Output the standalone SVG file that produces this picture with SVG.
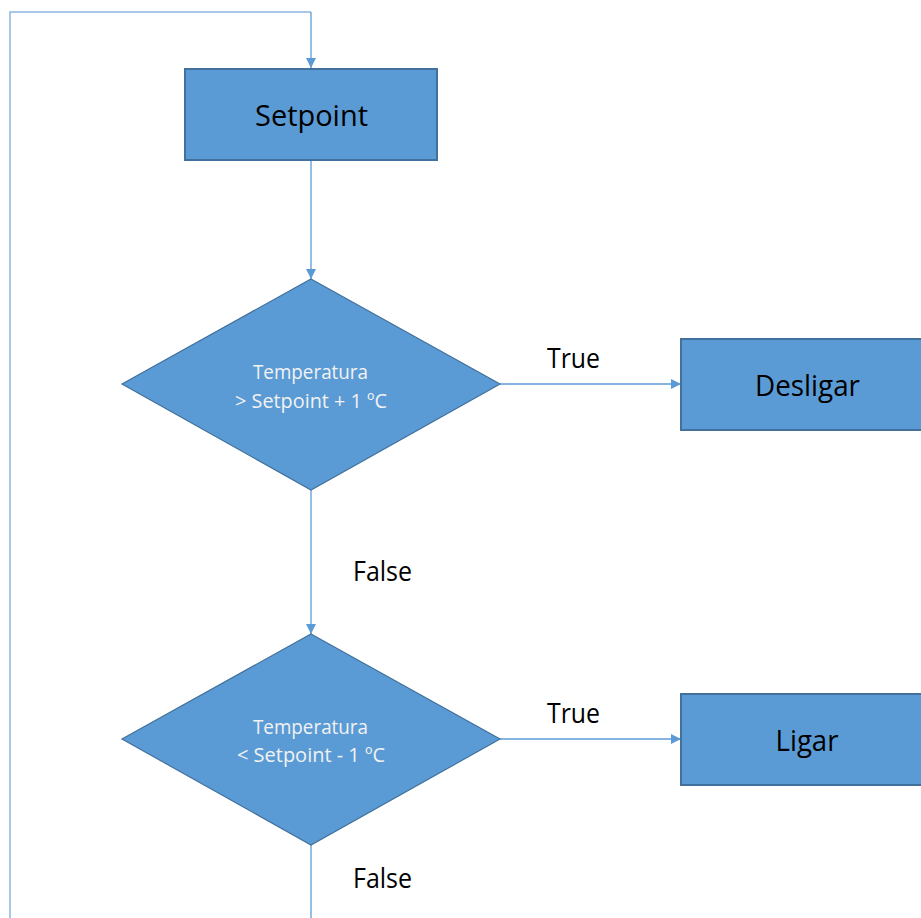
<svg xmlns="http://www.w3.org/2000/svg" width="921" height="918" viewBox="0 0 921 918">
  <style>
    .box { fill: #5B9BD5; stroke: #41719C; stroke-width: 2; }
    .dia { fill: #5B9BD5; stroke: #41719C; stroke-width: 1.2; }
    .lbl { font-family: "Open Sans", "Liberation Sans", sans-serif; fill: #000; text-anchor: middle; }
    .big { font-size: 29px; }
    .edl { font-size: 27px; }
    .dtx { font-family: "Open Sans", "Liberation Sans", sans-serif; fill: #F2F2F2; text-anchor: middle; font-size: 19.5px; }
    .edge { fill: none; stroke: #5B9BD5; stroke-width: 1.3; }
    .loop { fill: none; stroke: #8DB6E2; stroke-width: 1.5; }
  </style>
  <defs>
    <marker id="arrow" viewBox="0 0 10 10" refX="10" refY="5" markerWidth="10" markerHeight="10" markerUnits="userSpaceOnUse" orient="auto">
      <path d="M0,0 L10,5 L0,10 Z" fill="#5B9BD5"/>
    </marker>
  </defs>
  <rect width="921" height="918" fill="#FFFFFF"/>

  <g id="connectors">
    <path class="loop" d="M10,918 L10,12 L311,12"/>
    <path class="edge" d="M311,12 L311,68" marker-end="url(#arrow)"/>
    <path class="edge" d="M311,161 L311,279" marker-end="url(#arrow)"/>
    <path class="edge" d="M500,384 L681,384" marker-end="url(#arrow)"/>
    <path class="edge" d="M311,490 L311,634" marker-end="url(#arrow)"/>
    <path class="edge" d="M500,739 L681,739" marker-end="url(#arrow)"/>
    <path class="edge" d="M311,845 L311,918"/>
    <text class="lbl edl" x="573.5" y="368" textLength="53" lengthAdjust="spacingAndGlyphs">True</text>
    <text class="lbl edl" x="382.5" y="581" textLength="59" lengthAdjust="spacingAndGlyphs">False</text>
    <text class="lbl edl" x="573.5" y="723" textLength="53" lengthAdjust="spacingAndGlyphs">True</text>
    <text class="lbl edl" x="382.5" y="888" textLength="59" lengthAdjust="spacingAndGlyphs">False</text>
  </g>

  <g id="setpoint">
    <rect class="box" x="185" y="69" width="252" height="91"/>
    <text class="lbl big" x="311.5" y="126" textLength="113" lengthAdjust="spacingAndGlyphs">Setpoint</text>
  </g>

  <g id="check-high">
    <polygon class="dia" points="311,279 500,384 311,490 122,384"/>
    <text class="dtx" x="310.5" y="379" textLength="115" lengthAdjust="spacingAndGlyphs">Temperatura</text>
    <text class="dtx" x="311" y="408" textLength="152" lengthAdjust="spacingAndGlyphs">&gt; Setpoint + 1 ºC</text>
  </g>

  <g id="desligar">
    <rect class="box" x="681" y="339" width="250" height="91"/>
    <text class="lbl big" x="807.5" y="396" textLength="105" lengthAdjust="spacingAndGlyphs">Desligar</text>
  </g>

  <g id="check-low">
    <polygon class="dia" points="311,634 500,739 311,845 122,739"/>
    <text class="dtx" x="310.5" y="734" textLength="115" lengthAdjust="spacingAndGlyphs">Temperatura</text>
    <text class="dtx" x="311" y="762" textLength="148" lengthAdjust="spacingAndGlyphs">&lt; Setpoint - 1 ºC</text>
  </g>

  <g id="ligar">
    <rect class="box" x="681" y="694" width="250" height="91"/>
    <text class="lbl big" x="807" y="751" textLength="63" lengthAdjust="spacingAndGlyphs">Ligar</text>
  </g>
</svg>
